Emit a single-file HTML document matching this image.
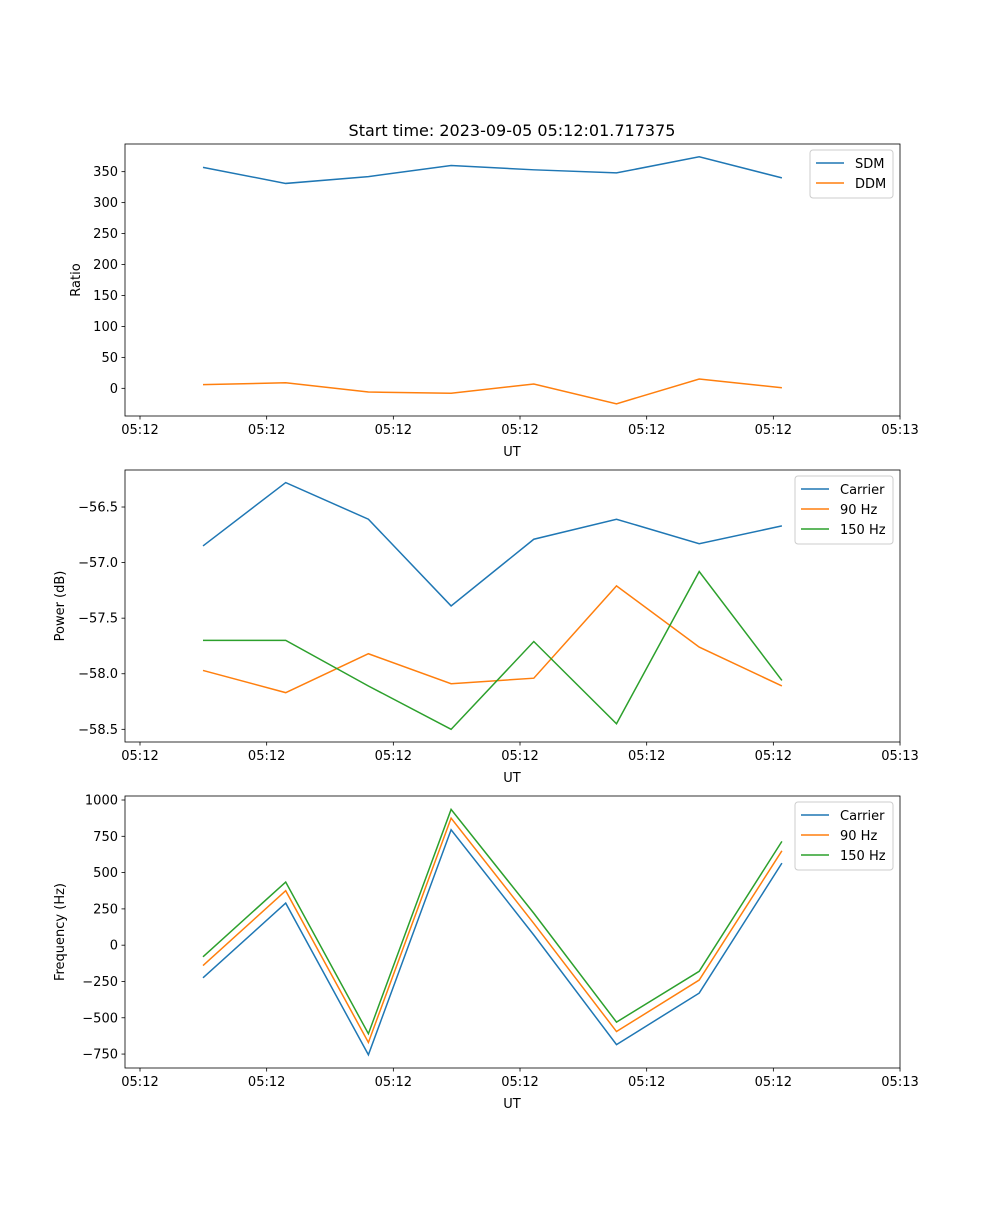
<!DOCTYPE html>
<html><head><meta charset="utf-8"><style>
body{margin:0;background:#fff}
svg text{font-family:"DejaVu Sans","Liberation Sans",sans-serif;fill:#000}
</style></head><body>
<svg id="fig" width="1000" height="1200" viewBox="0 0 1000 1200" xmlns="http://www.w3.org/2000/svg">
<rect width="1000" height="1200" fill="#fff"/>
<text x="512" y="136" font-size="16" text-anchor="middle">Start time: 2023-09-05 05:12:01.717375</text>
</svg>
<script>
const xTickLabels = ["05:12","05:12","05:12","05:12","05:12","05:12","05:13"];
const sdm = [357, 331, 342, 360, 353, 348, 374, 340];
const ddm = [6, 9, -6, -8, 7, -25, 15, 1];
const pwrCarrier = [-56.85, -56.28, -56.61, -57.39, -56.79, -56.61, -56.83, -56.67];
const pwr90 = [-57.97, -58.17, -57.82, -58.09, -58.04, -57.21, -57.76, -58.11];
const pwr150 = [-57.70, -57.70, -58.11, -58.50, -57.71, -58.45, -57.08, -58.06];
const frqCarrier = [-225, 290, -755, 795, 70, -685, -330, 565];
const frq90 = [-140, 375, -670, 875, 150, -595, -240, 650];
const frq150 = [-80, 435, -610, 935, 220, -530, -180, 715];
const ratioTicks = [0,50,100,150,200,250,300,350];
const pwrTicks = [-58.5,-58.0,-57.5,-57.0,-56.5];
const frqTicks = [-750,-500,-250,0,250,500,750,1000];

const NS="http://www.w3.org/2000/svg";
const svg=document.getElementById('fig');
const C=['#1f77b4','#ff7f0e','#2ca02c'];
function mk(tag,attrs,parent){const e=document.createElementNS(NS,tag);for(const k in attrs)e.setAttribute(k,attrs[k]);(parent||svg).appendChild(e);return e;}
const L=125,R=900;
function xs(i){return 140 + (i+0.497)*126.67*0.6525/0.6525*0+ 203-140 + i*82.7 + 0;}
function panel(name,top,ymin,ymax,ticks,fmt,ylabel,series,names,legendW){
  const bot=top+272;
  const ys=v=>bot-(v-ymin)/(ymax-ymin)*(bot-top);
  const g=mk('g',{});
  
  
  ticks.forEach(t=>{
    const y=ys(t);
    const tl=mk('line',{x1:L-3.5,x2:L,y1:y,y2:y,stroke:'#000','stroke-width':0.8},g);
    
    
    const tx=mk('text',{x:L-7,y:y+4.5,'font-size':13,'text-anchor':'end'},g);
    tx.textContent=fmt(t);
    
    
  });
  xTickLabels.forEach((lab,i)=>{
    const x=140+i*126.67;
    const tl=mk('line',{x1:x,x2:x,y1:bot,y2:bot+3.5,stroke:'#000','stroke-width':0.8},g);
    
    
    const tx=mk('text',{x:x,y:bot+18,'font-size':13,'text-anchor':'middle'},g);
    tx.textContent=lab;
    
    
  });
  const xl=mk('text',{x:512,y:bot+40,'font-size':13,'text-anchor':'middle'},g);
  xl.textContent='UT';
  
  
  const lx=ylabel==='Ratio'?80:64;
  const yl=mk('text',{x:lx,y:(top+bot)/2,'font-size':13,'text-anchor':'middle',transform:`rotate(-90 ${lx} ${(top+bot)/2})`},g);
  yl.textContent=ylabel;
  
  
  series.forEach((s,k)=>{
    const p=mk('polyline',{points:s.map((v,i)=>(203+i*82.7)+','+ys(v)).join(' '),fill:'none',stroke:C[k],'stroke-width':1.5},g);
    
    
  });
  const fr=mk('rect',{x:L,y:top,width:R-L,height:bot-top,fill:'none',stroke:'#000','stroke-width':0.8},g);
  
  
  const lg=mk('g',{},g);
  
  
  const lx0=893-legendW;
  mk('rect',{x:lx0,y:top+6,width:legendW,height:names.length*20+8,rx:3,fill:'#fff',stroke:'#ccc','stroke-width':1},lg);
  names.forEach((n,k)=>{
    const y=top+19+k*20;
    const ll=mk('line',{x1:lx0+6,x2:lx0+34,y1:y,y2:y,stroke:C[k],'stroke-width':1.5},lg);
    
    
    const t=mk('text',{x:lx0+45,y:y+5,'font-size':13},lg);
    t.textContent=n;
    
    
  });
}
panel('ratio',144,-44.7,394.7,ratioTicks,t=>String(t),'Ratio',[sdm,ddm],['SDM','DDM'],83);
panel('power',470,-58.614,-56.167,pwrTicks,t=>'\u2212'.repeat(t<0?1:0)+Math.abs(t).toFixed(1),'Power (dB)',[pwrCarrier,pwr90,pwr150],['Carrier','90 Hz','150 Hz'],98);
panel('frequency',796,-846,1027.6,frqTicks,t=>(t<0?'\u2212':'')+Math.abs(t),'Frequency (Hz)',[frqCarrier,frq90,frq150],['Carrier','90 Hz','150 Hz'],98);
</script>
</body></html>
